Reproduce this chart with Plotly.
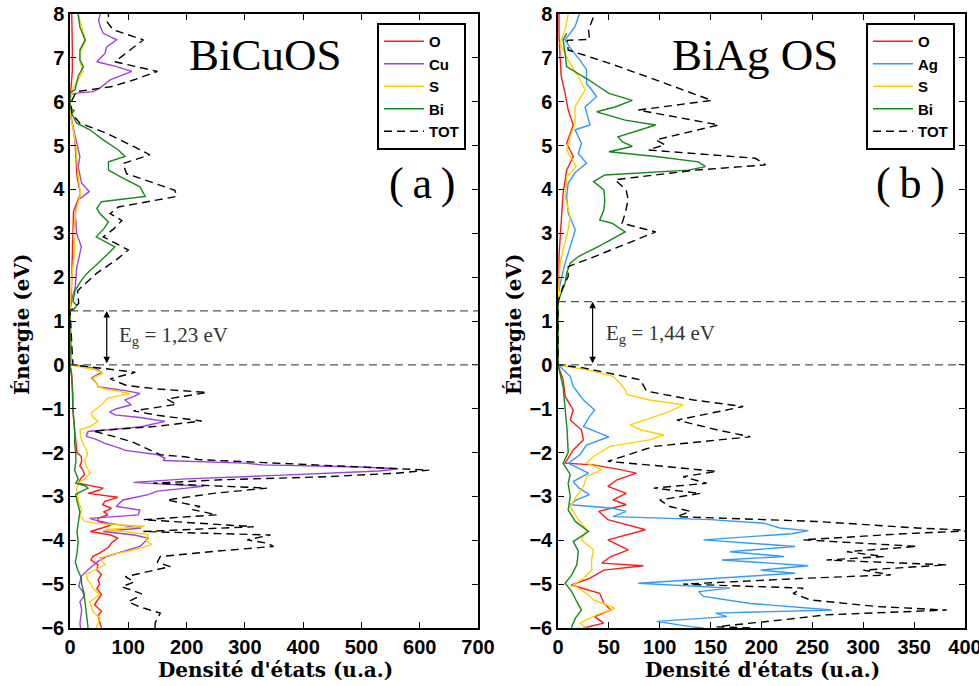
import plotly.graph_objects as go

# ================= BiCuOS (panel a) =================
gap_a = 1.23
a_O_E = [-6.0, -5.85, -5.72, -5.62, -5.47, -5.35, -5.24, -5.1, -5.0, -4.9, -4.78, -4.67, -4.56, -4.45, -4.37,
         -4.28, -4.17, -4.05, -3.95, -3.88, -3.8, -3.72, -3.65, -3.57, -3.5, -3.42, -3.35, -3.27, -3.19, -3.11,
         -3.02, -2.93, -2.86, -2.81, -2.75, -2.7, -2.6, -2.5, -2.4, -2.3, -2.2, -2.09, -2.0, -1.8, -1.5, -1.2,
         -1.0, -0.7, -0.4, -0.2, 0.0,
         1.23, 1.5, 2.0, 2.5, 3.0, 3.5, 3.9, 4.3, 4.8, 5.2, 5.5, 5.75, 6.0, 6.3, 6.7, 7.2, 7.6, 8.0]
a_O_dos = [54, 51, 48, 54, 42, 48, 54, 46, 51, 48, 54, 46, 48, 36, 39,
           52, 65, 72, 82, 70, 35, 55, 71, 48, 48, 65, 58, 71, 56, 60,
           82, 31, 50, 57, 30, 14, 18, 25, 22, 17, 20, 19.5, 12, 10, 8, 6,
           5, 5, 4, 3, 0,
           0, 2, 3, 3, 4, 6, 18, 12, 10, 8, 4, 1, 0, 2, 4, 4, 3, 3]

a_Cu_E = [-6.0, -5.89, -5.7, -5.58, -5.4, -5.28, -5.17, -5.05, -4.95, -4.82, -4.67, -4.48, -4.37, -4.29, -4.14,
          -4.07, -3.95, -3.88, -3.8, -3.72, -3.69, -3.61, -3.53, -3.5, -3.42, -3.31, -3.23, -3.19, -3.08, -2.96,
          -2.88, -2.77, -2.68, -2.6, -2.52, -2.46, -2.42, -2.37, -2.33, -2.28, -2.24, -2.18, -2.13, -2.05, -1.95,
          -1.9, -1.79, -1.7, -1.63, -1.55, -1.52, -1.45, -1.41, -1.29, -1.2, -1.14, -1.07, -1.0, -0.91, -0.8,
          -0.72, -0.65, -0.6, -0.5, -0.42, -0.3, -0.17, -0.08, 0.0,
          1.23, 1.5, 1.76, 2.22, 2.69, 2.99, 3.45, 3.76, 3.95, 4.14, 4.52, 4.75, 5.06, 5.44, 5.73, 6.15, 6.19,
          6.23, 6.34, 6.5, 6.69, 6.8, 6.91, 7.1, 7.25, 7.41, 7.56, 7.71, 7.86, 8.0]
a_Cu_dos = [18, 17, 19, 20, 17, 24, 22, 15, 17, 19.5, 31, 48, 63, 82, 120,
            126, 134, 110, 57, 122, 106, 66, 40, 34, 117, 120, 80, 82, 91, 134,
            150, 229, 109, 200, 355, 470, 530, 563, 500, 330, 300, 160, 163, 151, 95,
            85, 60, 45, 28, 30, 31, 90, 122, 163, 120, 77, 68, 80, 105, 94,
            110, 120, 100, 48, 46, 37, 54, 45, 3,
            0, 3, 9, 11.5, 19.5, 11.5, 9, 14, 33, 20, 14, 17, 11.5, 5.7, 0, 0, 8.6,
            40, 54, 69, 106, 80, 46, 60, 63, 80, 57, 52, 49, 52]

a_S_E = [-6.0, -5.9, -5.78, -5.62, -5.5, -5.4, -5.24, -5.1, -5.0, -4.9, -4.78, -4.67, -4.56, -4.4, -4.3,
         -4.22, -4.1, -4.0, -3.87, -3.8, -3.76, -3.68, -3.62, -3.57, -3.42, -3.3, -3.11, -3.0, -2.85, -2.7,
         -2.6, -2.47, -2.3, -2.17, -2.05, -1.94, -1.8, -1.71, -1.6, -1.48, -1.4, -1.29, -1.2, -1.1, -1.0,
         -0.91, -0.76, -0.65, -0.55, -0.5, -0.4, -0.3, -0.19, -0.1, -0.04, 0.0,
         1.23, 1.5, 2.0, 2.69, 3.0, 3.5, 3.9, 4.3, 4.7, 5.0, 5.4, 5.7, 6.0, 6.3, 6.7, 6.9, 7.1, 7.4, 7.7, 8.0]
a_S_dos = [45, 48, 51, 39, 36, 34, 51, 40, 36, 30, 28, 45, 60, 51, 80,
           111, 140, 130, 134, 90, 60, 128, 50, 25, 17, 20, 14, 14, 11, 14,
           25, 34, 28, 25, 30, 28, 22, 19.5, 18, 17, 35, 48, 40, 36, 45,
           54, 65, 103, 60, 48, 45, 39, 57, 40, 14, 2,
           0, 1, 3, 8.6, 6, 10, 18, 14, 12, 10, 5, 1, 0, 5, 23, 17, 17, 27, 20, 14]

a_Bi_E = [-6.0, -5.8, -5.5, -5.2, -5.0, -4.86, -4.7, -4.5, -4.3, -4.03, -3.8, -3.6, -3.35, -3.1, -2.95,
          -2.81, -2.75, -2.7, -2.6, -2.4, -2.2, -2.0, -1.8, -1.5, -1.2, -1.0, -0.6, -0.3, 0.0,
          1.23, 1.25, 1.35, 1.45, 1.69, 1.9, 2.08, 2.4, 2.69, 2.92, 3.1, 3.26, 3.45, 3.57, 3.72, 3.84,
          4.06, 4.29, 4.44, 4.63, 4.75, 4.9, 5.13, 5.36, 5.51, 5.73, 5.8, 5.85, 6.2, 6.27, 6.58, 6.8,
          6.95, 7.18, 7.41, 7.7, 7.94, 8.0]
a_Bi_dos = [31, 29, 27, 24, 20, 19.5, 14, 9, 12, 14, 12, 14, 17, 12, 10,
            31, 25, 10, 14, 8, 10, 10, 8, 8, 6, 5, 4, 3, 0,
            0, 5.7, 11.5, 5, 8.6, 18, 28.6, 55, 77, 45, 58, 66, 51, 46, 54, 129,
            120, 86, 66, 66, 94.5, 83, 57, 34, 11.5, 2.9, 7, 0, 0, 8.6, 14, 23,
            17, 17, 26, 17, 14, 14]

a_TOT_E = [-6.0, -5.89, -5.78, -5.66, -5.52, -5.4, -5.3, -5.22, -5.06, -4.95, -4.83, -4.7, -4.6, -4.5, -4.37,
           -4.25, -4.14, -4.07, -3.99, -3.88, -3.8, -3.69, -3.6, -3.53, -3.42, -3.3, -3.23, -3.08, -2.93, -2.81,
           -2.7, -2.62, -2.55, -2.47, -2.4, -2.32, -2.25, -2.16, -2.1, -2.05, -1.9, -1.77, -1.65, -1.51, -1.4,
           -1.28, -1.15, -1.05, -0.9, -0.78, -0.63, -0.55, -0.47, -0.32, -0.17, -0.08, 0.0,
           1.23, 1.4, 1.69, 2.08, 2.4, 2.62, 2.92, 3.1, 3.29, 3.45, 3.6, 3.84, 3.98, 4.2, 4.36, 4.59, 4.79,
           4.98, 5.28, 5.51, 5.73, 6.0, 6.23, 6.34, 6.5, 6.69, 6.91, 7.18, 7.41, 7.64, 7.83, 7.94, 8.0]
a_TOT_dos = [146, 146, 150, 155, 120, 100, 115, 123, 89, 110, 95, 140, 172, 150, 155,
             250, 349, 340, 304, 344, 126, 315, 200, 126, 252, 210, 223, 166, 246, 338,
             143, 260, 441, 560, 616, 480, 384, 220, 200, 155, 130, 109, 80, 40, 150,
             226, 150, 109, 183, 166, 235, 150, 97, 69, 112, 60, 5,
             0, 15, 13, 45, 80, 100, 57, 75, 89, 69, 83, 183, 180, 130, 97, 91, 137,
             109, 63, 17, 3, 2, 11, 70, 110, 150, 77, 103, 126, 74, 63, 66, 66]

# ================= BiAgOS (panel b) =================
gap_b = 1.44
b_O_E = [-6.0, -5.89, -5.74, -5.59, -5.44, -5.21, -5.02, -4.87, -4.68, -4.58, -4.52, -4.37, -4.22, -3.99, -3.76,
         -3.53, -3.34, -3.19, -3.08, -2.93, -2.77, -2.62, -2.47, -2.39, -2.28, -2.24, -1.94, -1.71, -1.48, -1.26,
         -1.03, -0.72, -0.34, 0.0,
         1.44, 2.0, 2.5, 3.38, 3.91, 4.44, 4.75, 5.05, 5.47, 5.81, 6.19, 6.6, 7.0, 7.5, 8.0]
b_O_dos = [25, 45, 36, 52, 45, 41, 13, 31, 45, 84, 43, 52, 69, 49, 86,
           49, 40, 67, 54, 67, 49, 58, 77, 61, 35, 7, 15, 25, 23, 12,
           15, 7, 5, 0,
           0, 1, 1, 3.6, 5, 8.5, 15, 8.5, 15, 10, 7, 3, 2, 1, 1]

b_Ag_E = [-6.0, -5.97, -5.85, -5.74, -5.66, -5.59, -5.44, -5.28, -5.17, -5.09, -4.98, -4.87, -4.75, -4.68, -4.58,
          -4.45, -4.37, -4.26, -4.14, -3.99, -3.85, -3.78, -3.72, -3.61, -3.53, -3.46, -3.34, -3.27, -3.19, -3.08,
          -2.96, -2.8, -2.66, -2.47, -2.24, -2.05, -1.83, -1.64, -1.41, -1.18, -1.03, -0.8, -0.49, -0.26, 0.0,
          1.44, 1.6, 2.0, 2.32, 2.77, 3.08, 3.46, 3.84, 4.14, 4.38, 4.6, 4.82, 5.05, 5.36, 5.47, 5.88, 6.12,
          6.42, 6.73, 6.95, 7.18, 7.41, 7.71, 7.94, 8.0]
b_Ag_dos = [143, 130, 97, 166, 155, 269, 189, 143, 138, 169, 79, 153, 233, 199, 246,
            161, 222, 169, 233, 143, 230, 246, 218, 202, 150, 54, 67, 54, 12, 18,
            31, 20, 15, 30, 10, 21.6, 28, 50, 25, 31, 36, 25, 15, 12, 0,
            0, 0, 3.6, 7, 13, 17, 10, 8.5, 10, 16.7, 28, 20, 23, 16.7, 31.5, 26.6, 38,
            28, 28, 21.6, 13.4, 7, 16.7, 20, 21]

b_S_E = [-6.0, -5.89, -5.7, -5.55, -5.36, -5.21, -5.02, -4.87, -4.68, -4.45, -4.22, -3.99, -3.76, -3.46, -3.23,
         -3.0, -2.77, -2.55, -2.39, -2.24, -2.09, -1.86, -1.71, -1.6, -1.48, -1.37, -1.06, -0.91, -0.8, -0.68,
         -0.57, -0.42, -0.26, -0.11, -0.04, 0.0,
         1.44, 2.0, 2.32, 2.62, 3.08, 3.38, 3.84, 4.29, 4.52, 4.9, 5.2, 5.5, 5.88, 6.27, 6.57, 6.95, 7.33,
         7.64, 7.94, 8.0]
b_S_dos = [28, 21.6, 38, 56, 35, 28, 15, 25, 33, 33, 35, 23, 28, 18, 12,
           18, 25, 28, 43, 28, 35, 51, 90, 104, 81, 71, 110, 123, 90, 68,
           66, 61, 54, 28, 8.5, 0,
           0, 1, 2, 5, 10, 12, 7, 8.5, 18, 8.5, 12, 16.7, 16.7, 26.6, 20, 10, 2,
           7, 10, 10]

b_Bi_E = [-6.0, -5.97, -5.78, -5.59, -5.4, -5.17, -4.98, -4.79, -4.56, -4.25, -4.03, -3.8, -3.57, -3.31, -3.0,
          -2.7, -2.5, -2.24, -2.0, -1.5, -1.0, -0.5, -0.2, 0.0,
          1.44, 1.56, 1.87, 2.09, 2.32, 2.47, 2.7, 3.03, 3.23, 3.3, 3.53, 3.76, 3.99, 4.18, 4.33, 4.44, 4.52,
          4.63, 4.75, 4.86, 4.98, 5.09, 5.2, 5.47, 5.58, 5.77, 5.88, 6.03, 6.19, 6.5, 6.8, 7.1, 7.41, 7.56]
b_Bi_dos = [13.5, 13.5, 17, 23, 18.5, 13.5, 7, 13.5, 18.5, 20, 15, 30, 17, 10, 12,
            10, 12, 5, 10, 9, 7, 5, 2, 0,
            0, 2, 7, 8.5, 12, 20, 40, 66, 53, 41, 45, 46, 45, 35, 46, 128, 145,
            138, 96, 50, 73, 63, 59, 96, 66, 38, 56, 73, 50, 30, 8.5, 7, 5, 8.5]

b_TOT_E = [-6.0, -5.97, -5.81, -5.7, -5.59, -5.51, -5.36, -5.21, -5.09, -5.0, -4.87, -4.79, -4.68, -4.56, -4.45,
           -4.37, -4.26, -4.14, -3.99, -3.85, -3.78, -3.72, -3.57, -3.46, -3.34, -3.23, -3.08, -2.93, -2.81, -2.7,
           -2.55, -2.43, -2.32, -2.2, -1.86, -1.64, -1.48, -1.26, -0.95, -0.8, -0.6, -0.34, -0.07, 0.0,
           1.44, 1.79, 2.01, 2.24, 2.47, 2.77, 3.03, 3.23, 3.46, 3.76, 3.99, 4.22, 4.44, 4.56, 4.71, 4.9,
           5.02, 5.13, 5.47, 5.81, 6.03, 6.5, 6.88, 7.18, 7.4, 7.42, 7.64, 7.94, 8.0]
b_TOT_dos = [189, 156, 222, 264, 382, 313, 248, 231, 241, 123, 238, 327, 300, 382, 264,
             320, 284, 353, 241, 340, 410, 353, 254, 117, 130, 110, 100, 140, 94, 146,
             123, 156, 107, 49, 94, 189, 156, 117, 182, 133, 87, 81, 25, 0,
             0, 5, 10, 10, 36, 69, 96, 63, 66, 69, 67, 56, 135, 204, 194, 89,
             105, 96, 158, 79, 151, 96, 50, 10, 9, 31, 30, 35, 35]

# ================= styling =================
COL = {"O": "#ff1a1a", "Cu": "#a040e0", "S": "#ffd000", "Bi": "#15891a", "Ag": "#3399ff", "TOT": "#000000"}
SERIF = "Liberation Serif, Times New Roman, serif"
BOLDSERIF = "DejaVu Serif, serif"
TICKFONT = dict(family="Liberation Sans Narrow, Arial Narrow, Liberation Sans, Arial", size=20,
                color="black", weight="bold")

fig = go.Figure()

def add(E, dos, name, xa, ya, leg):
    is_tot = name == "TOT"
    fig.add_trace(go.Scatter(
        x=dos, y=E, mode="lines", name=name, xaxis=xa, yaxis=ya, legend=leg,
        legendgroup=leg + name,
        line=dict(color=COL[name], width=1.4,
                  dash="8px,5px" if is_tot else "solid"),
        hoverinfo="skip"))

add(a_O_E, a_O_dos, "O", "x", "y", "legend")
add(a_Cu_E, a_Cu_dos, "Cu", "x", "y", "legend")
add(a_S_E, a_S_dos, "S", "x", "y", "legend")
add(a_Bi_E, a_Bi_dos, "Bi", "x", "y", "legend")
add(a_TOT_E, a_TOT_dos, "TOT", "x", "y", "legend")

add(b_O_E, b_O_dos, "O", "x2", "y2", "legend2")
add(b_Ag_E, b_Ag_dos, "Ag", "x2", "y2", "legend2")
add(b_S_E, b_S_dos, "S", "x2", "y2", "legend2")
add(b_Bi_E, b_Bi_dos, "Bi", "x2", "y2", "legend2")
add(b_TOT_E, b_TOT_dos, "TOT", "x2", "y2", "legend2")

W, H = 979, 686
def px(x):
    return x / W
def py(y):
    return 1 - y / H

axis_common = dict(showline=True, linecolor="black", linewidth=1.5, mirror="ticks",
                   ticks="inside", ticklen=6, tickwidth=1.2, tickcolor="black",
                   showgrid=False, zeroline=False, tickfont=TICKFONT, automargin=False,
                   ticklabeloverflow="allow")

legend_common = dict(bgcolor="white", bordercolor="black", borderwidth=2,
                     font=dict(family="Liberation Sans, Arial", size=15, color="black", weight="bold"),
                     xanchor="left", yanchor="top", tracegroupgap=0, itemwidth=40)

fig.update_layout(
    width=W, height=H, margin=dict(l=0, r=0, t=0, b=0, autoexpand=False),
    paper_bgcolor="white", plot_bgcolor="white", showlegend=True,
    xaxis=dict(domain=[px(70), px(478)], range=[0, 700], dtick=100, anchor="y", **axis_common),
    yaxis=dict(domain=[py(628), py(14)], range=[-6, 8], dtick=1, anchor="x", **axis_common),
    xaxis2=dict(domain=[px(558), px(965)], range=[0, 400], dtick=50, anchor="y2", **axis_common),
    yaxis2=dict(domain=[py(628), py(14)], range=[-6, 8], dtick=1, anchor="x2", **axis_common),
    legend=dict(x=px(377), y=py(23), **legend_common),
    legend2=dict(x=px(866), y=py(23), **legend_common),
)

# dashed reference lines (valence band top, conduction band bottom)
for xr, yr, g in (("x", "y", gap_a), ("x2", "y2", gap_b)):
    for yv in (0.0, g):
        fig.add_shape(type="line", xref=xr + " domain", yref=yr, x0=0, x1=1, y0=yv, y1=yv,
                      line=dict(color="#555555", width=1.2, dash="8px,5px"), layer="above")

annots = []
# gap arrows
for xr, yr, g, xv in (("x", "y", gap_a, 63), ("x2", "y2", gap_b, 34)):
    annots.append(dict(x=xv, y=g, ax=xv, ay=0, xref=xr, yref=yr, axref=xr, ayref=yr,
                       showarrow=True, arrowhead=2, arrowside="end+start", arrowsize=1.1,
                       arrowwidth=1.2, arrowcolor="black", text="", standoff=0, startstandoff=0))
annots.append(dict(x=80, y=0.66, xref="x", yref="y", xanchor="left", yanchor="middle", showarrow=False,
                   text="E<sub>g</sub> = 1,23 eV", font=dict(family=SERIF, size=21, color="#333333")))
annots.append(dict(x=45, y=0.70, xref="x2", yref="y2", xanchor="left", yanchor="middle", showarrow=False,
                   text="E<sub>g</sub> = 1,44 eV", font=dict(family=SERIF, size=21, color="#333333")))

def label(xc, yc, text, font, angle=0):
    annots.append(dict(x=px(xc), y=py(yc), xref="paper", yref="paper", showarrow=False,
                       xanchor="center", yanchor="middle", textangle=angle, text=text, font=font))

# panel titles
label(265, 55, "BiCuOS", dict(family=SERIF, size=45, color="black"))
label(755, 55, "BiAg OS", dict(family=SERIF, size=45, color="black"))
label(422, 184, "(\u2009a\u2009)", dict(family=SERIF, size=44, color="black"))
label(910, 184, "(\u2009b\u2009)", dict(family=SERIF, size=44, color="black"))
# axis titles
for xc in (22, 514):
    label(xc, 325, "Énergie (eV)", dict(family=BOLDSERIF, size=20, color="black", weight="bold"), -90)
for xc in (275, 762):
    label(xc, 670, "Densité d'états (u.a.)", dict(family=BOLDSERIF, size=20, color="black", weight="bold"))
fig.update_layout(annotations=annots)

fig.write_html("out.html", config={"displayModeBar": False},
               post_script="document.body.style.margin='0';document.body.style.overflow='hidden';")
